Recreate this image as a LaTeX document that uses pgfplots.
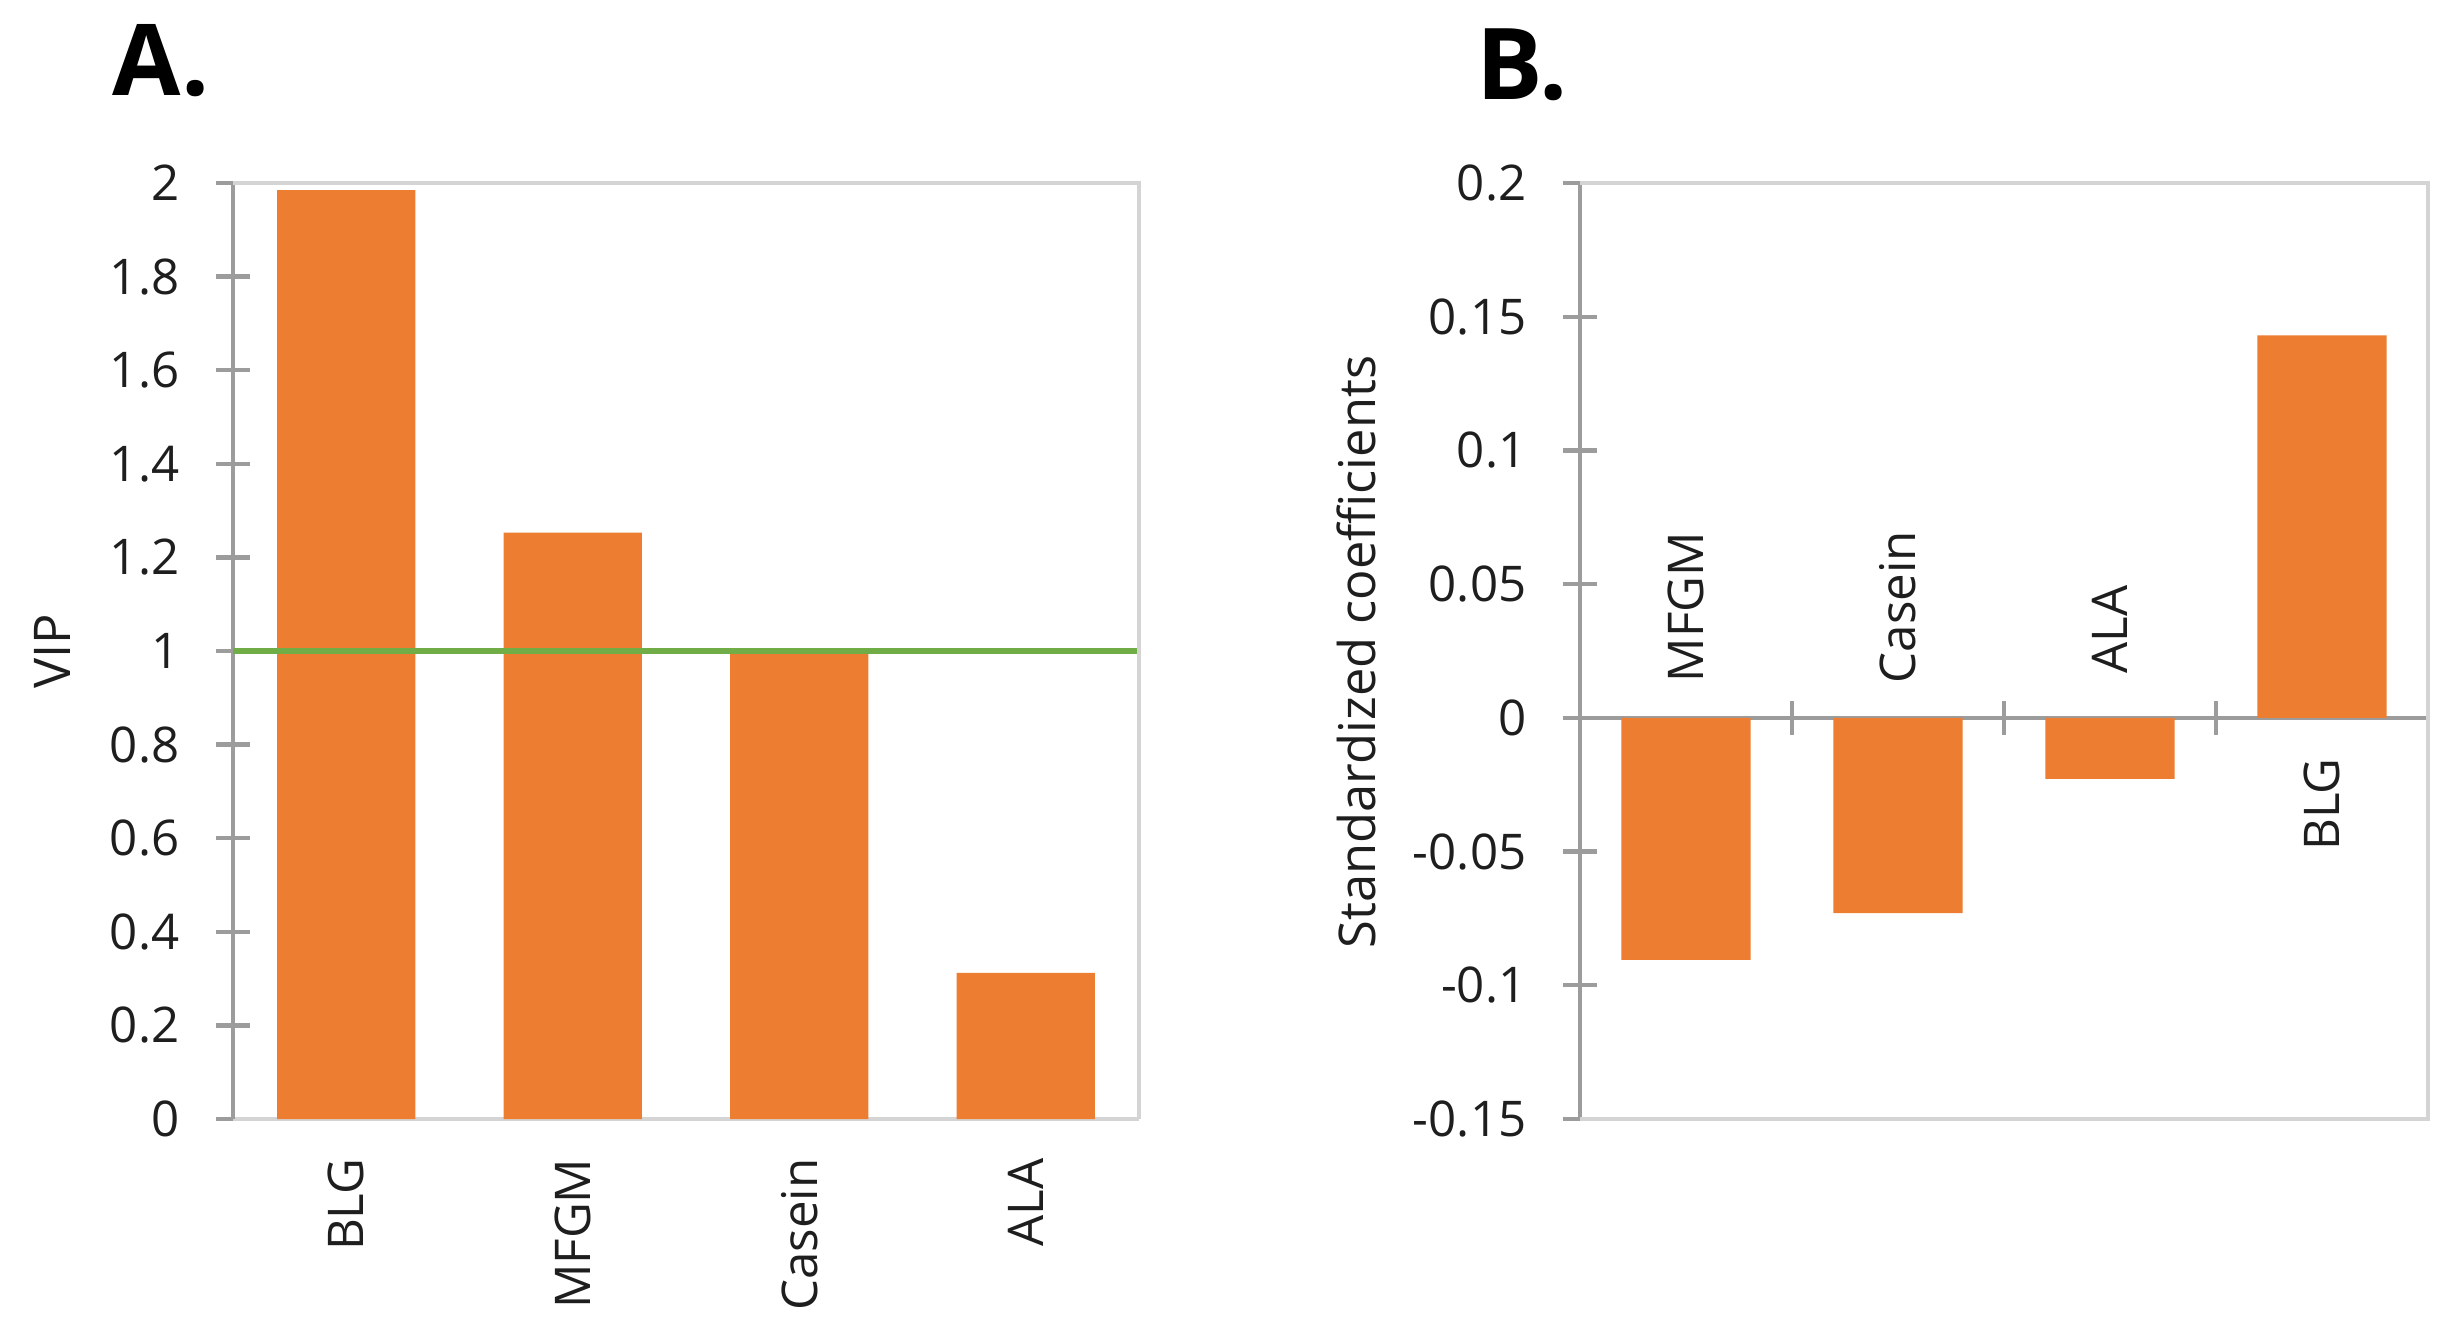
\documentclass[border=0pt]{standalone}
\usepackage{fontspec}
\setmainfont{Open Sans}
\usepackage{pgfplots}
\pgfplotsset{compat=1.18}

\definecolor{barorange}{HTML}{ED7D31}
\definecolor{vipgreen}{HTML}{70AD47}
\definecolor{axgray}{HTML}{9C9C9C}
\definecolor{framegray}{HTML}{D4D4D4}
\definecolor{txt}{HTML}{1E1E1E}

\newcommand{\tickfont}{\fontsize{14}{16}\selectfont}
\newcommand{\titlefont}{\fontsize{14.4}{17}\selectfont}

\pgfplotsset{
  panel/.style={
    scale only axis,
    anchor=south west,
    height=9.36cm,
    xmin=-0.5, xmax=3.5,
    clip=false,
    axis y line=left,
    every outer y axis line/.append style={-, axgray, line width=1.4pt},
    y tick style={axgray, line width=1.2pt},
    major tick length=0.34cm,
    tick align=center,
    tick label style={font=\tickfont, text=txt},
    yticklabel style={anchor=east, inner sep=0pt},
    yticklabel shift=0.36cm,
    /pgf/number format/assume math mode=true,
  },
}

\begin{document}
\begin{tikzpicture}
\useasboundingbox (0,0) rectangle (24.53,13.42);

% panel labels
\node[anchor=base west, inner sep=0pt, font=\fontsize{28.2}{30}\selectfont\bfseries] at (1.12,12.46) {A.};
\node[anchor=base west, inner sep=0pt, font=\fontsize{28.2}{30}\selectfont\bfseries] at (14.76,12.42) {B.};

% ---- A: VIP ----
\begin{axis}[panel,
  at={(2.33cm,2.23cm)},
  width=9.06cm,
  ymin=0, ymax=2,
  axis x line=bottom,
  every outer x axis line/.append style={-, framegray, line width=1.1pt},
  ytick={0,0.2,0.4,0.6,0.8,1,1.2,1.4,1.6,1.8,2},
  xtick={0,1,2,3},
  xticklabels={BLG,MFGM,Casein,ALA},
  x tick style={draw=none},
  xticklabel style={rotate=90, anchor=east, inner sep=0pt},
  xticklabel shift=0.22cm,
]
\addplot[ybar, bar width=0.61, fill=barorange, draw=none]
  coordinates {(0,1.985) (1,1.253) (2,1.0) (3,0.312)};
\addplot[vipgreen, line width=1.7pt] coordinates {(-0.5,1) (3.5,1)};
\draw[framegray, line width=1.1pt] (rel axis cs:0,1) -- (rel axis cs:1,1) -- (rel axis cs:1,0);
\end{axis}
\node[rotate=90, font=\titlefont, text=txt] at (0.52,6.91) {VIP};

% ---- B: standardized coefficients ----
\begin{axis}[panel,
  at={(15.80cm,2.23cm)},
  width=8.48cm,
  ymin=-0.15, ymax=0.2,
  axis x line=middle,
  every inner x axis line/.append style={-, axgray, line width=1.2pt},
  ytick={-0.15,-0.1,-0.05,0,0.05,0.1,0.15,0.2},
  yticklabel style={/pgf/number format/fixed, /pgf/number format/precision=2},
  xtick={0.5,1.5,2.5,3.5},
  xticklabels={},
  x tick style={axgray, line width=1.2pt},
]
\addplot[ybar, bar width=0.61, fill=barorange, draw=none]
  coordinates {(0,-0.0905) (1,-0.0730) (2,-0.0228) (3,0.1430)};
\draw[framegray, line width=1.1pt] (rel axis cs:0,1) -- (rel axis cs:1,1) -- (rel axis cs:1,0) -- (rel axis cs:0,0);
\node[yshift=0.35cm, rotate=90, anchor=west, inner sep=0pt, font=\tickfont, text=txt] at (axis cs:0,0) {MFGM};
\node[yshift=0.34cm, rotate=90, anchor=west, inner sep=0pt, font=\tickfont, text=txt] at (axis cs:1,0) {Casein};
\node[yshift=0.44cm, rotate=90, anchor=west, inner sep=0pt, font=\tickfont, text=txt] at (axis cs:2,0) {ALA};
\node[yshift=-0.40cm, rotate=90, anchor=east, inner sep=0pt, font=\tickfont, text=txt] at (axis cs:3,0) {BLG};
\end{axis}
\node[rotate=90, font=\titlefont, text=txt] at (13.56,6.90) {Standardized coefficients};
\end{tikzpicture}
\end{document}
